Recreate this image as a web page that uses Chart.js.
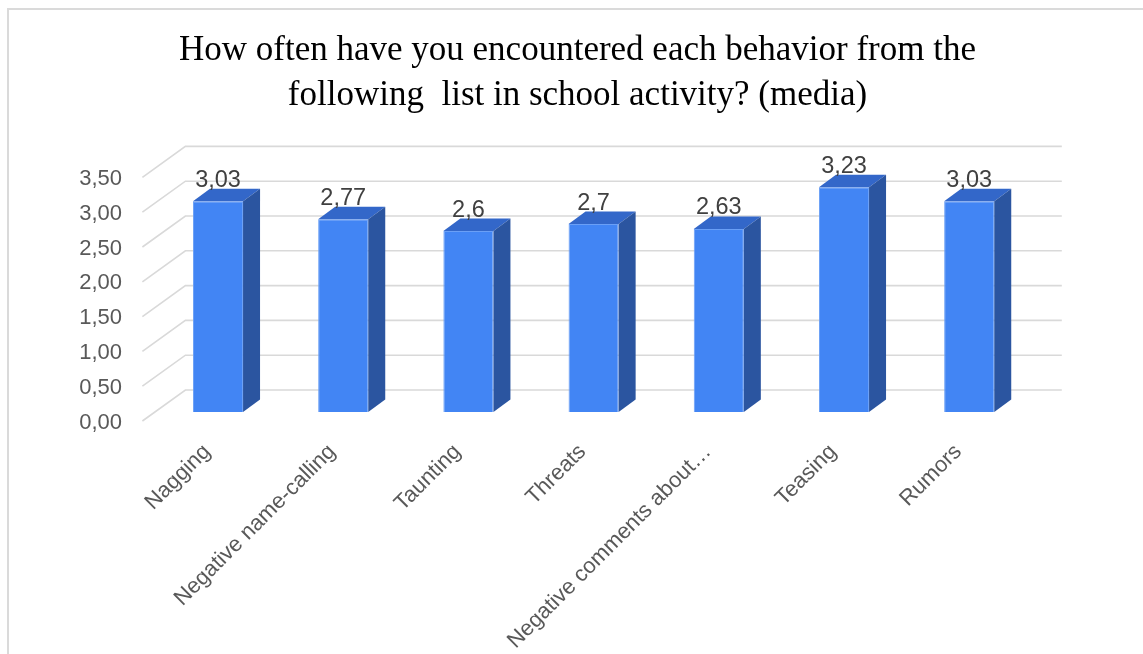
<!DOCTYPE html>
<html>
<head>
<meta charset="utf-8">
<script src="https://cdn.jsdelivr.net/npm/chart.js@4.4.1/dist/chart.umd.min.js"></script>
<style>
  html, body { margin: 0; padding: 0; background: #fff; }
  #wrap { position: relative; width: 1143px; height: 654px; overflow: hidden; }
  #frame { position: absolute; left: 7px; top: 8px; width: 1300px; height: 800px;
           border-top: 2px solid #dadada; border-left: 2px solid #dadada; }
  canvas { position: absolute; left: 0; top: 0; }
</style>
</head>
<body>
<div id="wrap">
  <div id="frame"></div>
  <canvas id="chart" width="1143" height="654"></canvas>
</div>
<script>
// ---- data ----
const categories = ['Nagging', 'Negative name-calling', 'Taunting', 'Threats',
                    'Negative comments about…', 'Teasing', 'Rumors'];
const values = [3.03, 2.77, 2.6, 2.7, 2.63, 3.23, 3.03];
const tickValues = [0, 0.5, 1, 1.5, 2, 2.5, 3, 3.5];
const titleLines = ['How often have you encountered each behavior from the',
                    'following  list in school activity? (media)'];

// ---- 3D look ----
const BAR_DEPTH = { dx: 17, dy: -12.5 };   // extrusion of each column
const WALL_BACK = { dx: 30, dy: -22 };     // back wall relative to the bar front plane
const WALL_FRONT = { dx: -13, dy: 9 };     // front edge of the left wall / floor
const COLORS = { front: '#4285f4', top: '#3367c9', side: '#2b55a0', grid: '#d9d9d9' };

const decimal = v => String(v).replace('.', ',');

const wallsPlugin = {
  id: 'walls3d',
  beforeDatasetsDraw(chart) {
    const { ctx, chartArea: a } = chart;
    const ys = chart.scales.y;
    ctx.save();
    ctx.strokeStyle = COLORS.grid;
    ctx.lineWidth = 1.6;
    tickValues.forEach(v => {
      const y = ys.getPixelForValue(v);
      ctx.beginPath();
      ctx.moveTo(a.left + WALL_FRONT.dx, y + WALL_FRONT.dy);
      ctx.lineTo(a.left + WALL_BACK.dx, y + WALL_BACK.dy);
      ctx.lineTo(a.right + WALL_BACK.dx, y + WALL_BACK.dy);
      ctx.stroke();
    });
    ctx.restore();
  }
};

const columnsPlugin = {
  id: 'columns3d',
  afterDatasetsDraw(chart) {
    const { ctx } = chart;
    const meta = chart.getDatasetMeta(0);
    ctx.save();
    meta.data.forEach((bar, i) => {
      const { x, y, base, width } = bar.getProps(['x', 'y', 'base', 'width'], true);
      const l = x - width / 2, r = x + width / 2;
      const dx = BAR_DEPTH.dx, dy = BAR_DEPTH.dy;
      ctx.fillStyle = COLORS.top;
      ctx.beginPath();
      ctx.moveTo(l, y); ctx.lineTo(l + dx, y + dy); ctx.lineTo(r + dx, y + dy); ctx.lineTo(r, y);
      ctx.closePath(); ctx.fill();
      ctx.fillStyle = COLORS.side;
      ctx.beginPath();
      ctx.moveTo(r, y); ctx.lineTo(r + dx, y + dy); ctx.lineTo(r + dx, base + dy); ctx.lineTo(r, base);
      ctx.closePath(); ctx.fill();

      // value label
      ctx.fillStyle = '#404040';
      ctx.font = '23.5px "Liberation Sans", Arial, sans-serif';
      ctx.textAlign = 'center';
      ctx.textBaseline = 'middle';
      ctx.fillText(decimal(values[i]), x, y - 21);
    });
    ctx.restore();
  }
};

Chart.defaults.font.family = '"Liberation Sans", Arial, sans-serif';

new Chart(document.getElementById('chart'), {
  type: 'bar',
  data: {
    labels: categories,
    datasets: [{
      data: values,
      backgroundColor: COLORS.front,
      borderColor: '#6a9ff6',
      borderWidth: 1,
      categoryPercentage: 1,
      barPercentage: 0.4
    }]
  },
  options: {
    responsive: false,
    animation: false,
    devicePixelRatio: 1,
    layout: { padding: { left: 12, right: 0, top: 0, bottom: 0 } },
    plugins: {
      legend: { display: false },
      tooltip: { enabled: false },
      title: {
        display: true,
        text: titleLines,
        color: '#000',
        font: { family: '"Liberation Serif", "Times New Roman", serif', size: 35, weight: 'normal', lineHeight: 1.286 },
        padding: { top: 28.5, bottom: 49.9 }
      }
    },
    scales: {
      x: {
        grid: { display: false, drawTicks: false },
        border: { display: false },
        ticks: {
          autoSkip: false, maxRotation: 45, minRotation: 45,
          color: '#595959', font: { size: 22 }, padding: 27, labelOffset: -11
        },
        afterFit(s) { s.height = 242; }
      },
      y: {
        min: 0, max: 3.5,
        grid: { display: false, drawTicks: false },
        border: { display: false },
        ticks: {
          stepSize: 0.5, color: '#595959', font: { size: 22 }, padding: 33.4, labelOffset: 10.5,
          callback: v => Number(v).toFixed(2).replace('.', ',')
        },
        afterFit(s) { s.width = 143.4; }
      },
      // empty right-hand margin that holds the back wall's depth
      yRight: {
        position: 'right',
        grid: { display: false, drawTicks: false },
        border: { display: false },
        ticks: { display: false },
        afterFit(s) { s.width = 111.2; }
      }
    }
  },
  plugins: [wallsPlugin, columnsPlugin]
});
</script>
</body>
</html>
